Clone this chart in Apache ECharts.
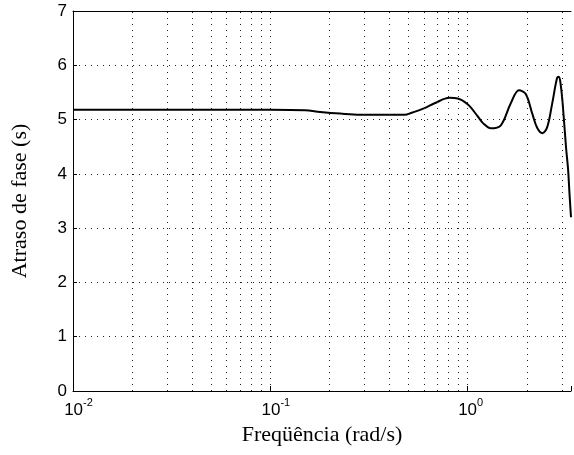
<!DOCTYPE html>
<html>
<head>
<meta charset="utf-8">
<script src="https://cdn.jsdelivr.net/npm/echarts@6/dist/echarts.min.js"></script>
<style>
  html, body { margin: 0; padding: 0; background: #fff; }
  #chart { width: 574px; height: 455px; }
</style>
</head>
<body>
<div id="chart"></div>
<script>
// frequência (rad/s) e atraso de fase (s)
const freq = [0.01, 0.05, 0.1, 0.15, 0.179, 0.226, 0.285, 0.4, 0.48, 0.516, 0.605, 0.68, 0.81, 0.89,
  1.0, 1.12, 1.2, 1.31, 1.47, 1.65, 1.82, 1.97, 2.13, 2.25, 2.39, 2.53, 2.68, 2.84, 2.9, 2.96,
  3.03, 3.15, 3.23, 3.28, 3.34]
const delay = [5.18, 5.18, 5.18, 5.17, 5.14, 5.11, 5.09, 5.09, 5.09, 5.12, 5.21, 5.30, 5.40, 5.39,
  5.28, 5.07, 4.93, 4.84, 4.89, 5.29, 5.54, 5.47, 5.10, 4.85, 4.75, 4.86, 5.29, 5.77, 5.79, 5.65,
  5.30, 4.50, 4.07, 3.65, 3.20]

// grade vertical (décadas e subdivisões)
const gridFreqs = [0.02, 0.03, 0.04, 0.05, 0.06, 0.07, 0.08, 0.09, 0.1,
  0.2, 0.3, 0.4, 0.5, 0.6, 0.7, 0.8, 0.9, 1, 2, 3]
const xMin = 0.01
const xMax = 3.34
const yTicks = [0, 1, 2, 3, 4, 5, 6, 7]

const dotted = { color: '#222', width: 1, type: [1, 5] }
const sansFont = 'Liberation Sans'
const serifFont = 'Liberation Serif'

const chart = echarts.init(document.getElementById('chart'))

const option = {
  animation: false,
  grid: { left: 73, right: 0, top: 11, bottom: 64 },
  xAxis: [
    {
      type: 'log',
      logBase: 10,
      min: xMin,
      max: xMax,
      splitNumber: 3,
      name: 'Freqüência (rad/s)',
      nameLocation: 'middle',
      nameGap: 33,
      nameTextStyle: { fontFamily: serifFont, fontSize: 22, color: '#000' },
      axisLine: { lineStyle: { color: '#000', width: 1 } },
      axisTick: { inside: true, length: 5, lineStyle: { color: '#000' } },
      splitLine: { show: false },
      axisLabel: {
        margin: 6,
        formatter: function(v) {
          const lg = Math.log10(v)
          const e = Math.round(lg)
          if (Math.abs(lg - e) > 1e-6) return ''
          const sup = String(e)
          return '{' + (sup.length > 1 ? 'padw' : 'padn') + '|}{b|10}{s|' + sup + '}'
        },
        rich: {
          padw: { width: 11 },
          padn: { width: 6 },
          b: { fontFamily: sansFont, fontSize: 17, color: '#000', lineHeight: 22, verticalAlign: 'bottom' },
          s: { fontFamily: sansFont, fontSize: 11, color: '#000', lineHeight: 10, verticalAlign: 'top' }
        }
      }
    },
    {
      type: 'log',
      logBase: 10,
      min: xMin,
      max: xMax,
      position: 'top',
      axisLine: { lineStyle: { color: '#000', width: 1 } },
      axisTick: { show: false },
      axisLabel: { show: false },
      splitLine: { show: false }
    }
  ],
  yAxis: {
    type: 'value',
    min: yTicks[0],
    max: yTicks[yTicks.length - 1],
    interval: 1,
    name: 'Atraso de fase (s)',
    nameLocation: 'middle',
    nameRotate: 90,
    nameGap: 42,
    nameTextStyle: { fontFamily: serifFont, fontSize: 22, color: '#000' },
    axisLine: { show: true, lineStyle: { color: '#000', width: 1 } },
    axisTick: { show: true, inside: true, length: 4, lineStyle: { color: '#000' } },
    axisLabel: { fontFamily: sansFont, fontSize: 17, color: '#000', margin: 6 },
    splitLine: { show: true, lineStyle: dotted }
  },
  series: [
    {
      type: 'line',
      data: freq.map((f, i) => [f, delay[i]]),
      showSymbol: false,
      smooth: 0.35,
      lineStyle: { color: '#000', width: 2 },
      itemStyle: { color: '#000' },
      markLine: {
        silent: true,
        symbol: ['none', 'none'],
        label: { show: false },
        lineStyle: dotted,
        data: gridFreqs.map(f => ({ xAxis: f }))
      },
      z: 3
    }
  ]
}

chart.setOption(option)
</script>
</body>
</html>
